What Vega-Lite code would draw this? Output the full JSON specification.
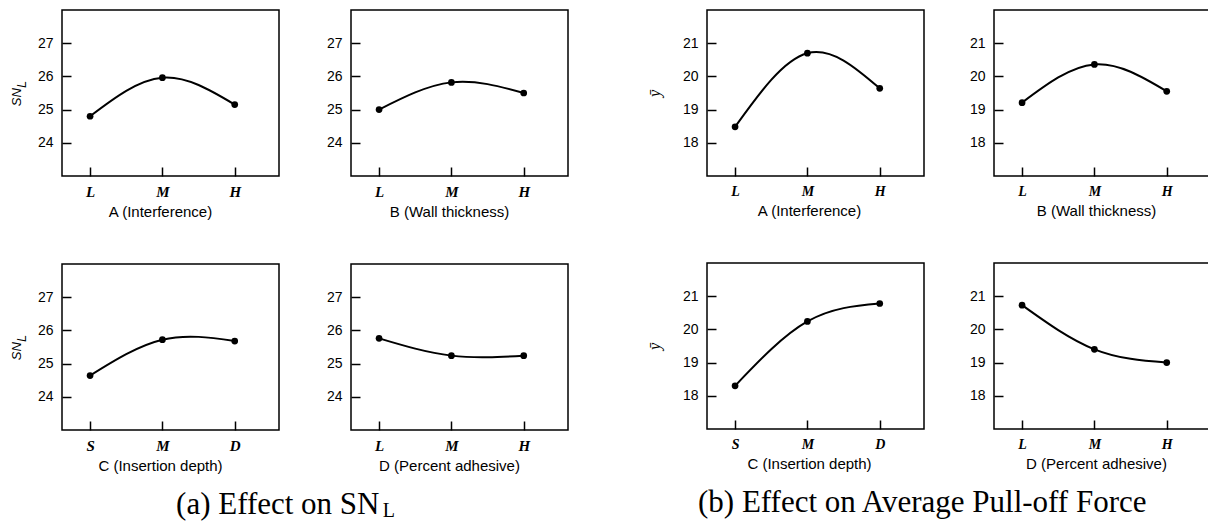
{
  "$schema": "https://vega.github.io/schema/vega-lite/v6.json",
  "padding": {"left": 9, "top": 9, "right": 0, "bottom": 0},
  "background": "white",
  "datasets": {
    "effects": [
      {"g": "a", "f": "A", "level": "L", "value": 24.8},
      {"g": "a", "f": "A", "level": "M", "value": 25.96},
      {"g": "a", "f": "A", "level": "H", "value": 25.15},
      {"g": "a", "f": "B", "level": "L", "value": 25.0},
      {"g": "a", "f": "B", "level": "M", "value": 25.82},
      {"g": "a", "f": "B", "level": "H", "value": 25.5},
      {"g": "a", "f": "C", "level": "S", "value": 24.64},
      {"g": "a", "f": "C", "level": "M", "value": 25.72},
      {"g": "a", "f": "C", "level": "D", "value": 25.68},
      {"g": "a", "f": "D", "level": "L", "value": 25.76},
      {"g": "a", "f": "D", "level": "M", "value": 25.24},
      {"g": "a", "f": "D", "level": "H", "value": 25.24},
      {"g": "b", "f": "A", "level": "L", "value": 18.48},
      {"g": "b", "f": "A", "level": "M", "value": 20.7},
      {"g": "b", "f": "A", "level": "H", "value": 19.64},
      {"g": "b", "f": "B", "level": "L", "value": 19.21},
      {"g": "b", "f": "B", "level": "M", "value": 20.36},
      {"g": "b", "f": "B", "level": "H", "value": 19.55},
      {"g": "b", "f": "C", "level": "S", "value": 18.3},
      {"g": "b", "f": "C", "level": "M", "value": 20.24},
      {"g": "b", "f": "C", "level": "D", "value": 20.78},
      {"g": "b", "f": "D", "level": "L", "value": 20.73},
      {"g": "b", "f": "D", "level": "M", "value": 19.4},
      {"g": "b", "f": "D", "level": "H", "value": 19.0}
    ]
  },
  "spacing": 76,
  "hconcat": [
    {
      "spacing": 43,
      "title": {
        "text": "(a) Effect on SN\u00a0\u00a0\u200b",
        "subtitle": "L",
        "orient": "bottom",
        "anchor": "start",
        "align": "right",
        "frame": "group",
        "dx": 333,
        "offset": 16,
        "font": "Liberation Serif",
        "fontSize": 31,
        "fontWeight": "normal",
        "color": "black",
        "subtitleFont": "Liberation Serif",
        "subtitleFontSize": 20,
        "subtitleColor": "black",
        "subtitlePadding": -20
      },
      "vconcat": [
        {
          "spacing": 45,
          "hconcat": [
            {
              "width": 217, "height": 166,
              "data": {"name": "effects"},
              "transform": [{"filter": "datum.g === 'a' && datum.f === 'A'"}],
              "encoding": {
                "x": {"field": "level", "type": "nominal", "sort": null, "scale": {"type": "point", "paddingOuter": 0.612, "align": 0.388}, "axis": {"title": "A (Interference)", "titleX": 98}},
                "y": {"field": "value", "type": "quantitative", "scale": {"domain": [23, 28], "nice": false, "zero": false}, "axis": {"values": [24, 25, 26, 27], "title": ["SN\u00a0\u00a0\u200b", "\u200b\u00a0\u00a0\u00a0\u00a0\u00a0L"], "titleFont": "Liberation Sans", "titleFontStyle": "italic", "titleFontSize": 13, "titleLineHeight": 5, "titlePadding": 9}}
              },
              "layer": [
                {"mark": {"type": "line", "interpolate": "natural", "color": "black", "strokeWidth": 2}, "encoding": {}},
                {"mark": {"type": "point", "filled": true, "color": "black", "size": 45, "opacity": 1}}
              ]
            },
            {
              "width": 217, "height": 166,
              "data": {"name": "effects"},
              "transform": [{"filter": "datum.g === 'a' && datum.f === 'B'"}],
              "encoding": {
                "x": {"field": "level", "type": "nominal", "sort": null, "scale": {"type": "point", "paddingOuter": 0.612, "align": 0.388}, "axis": {"title": "B (Wall thickness)", "titleX": 98}},
                "y": {"field": "value", "type": "quantitative", "scale": {"domain": [23, 28], "nice": false, "zero": false}, "axis": {"values": [24, 25, 26, 27], "title": null}}
              },
              "layer": [
                {"mark": {"type": "line", "interpolate": "natural", "color": "black", "strokeWidth": 2}, "encoding": {}},
                {"mark": {"type": "point", "filled": true, "color": "black", "size": 45, "opacity": 1}}
              ]
            }
          ]
        },
        {
          "spacing": 45,
          "hconcat": [
            {
              "width": 217, "height": 166,
              "data": {"name": "effects"},
              "transform": [{"filter": "datum.g === 'a' && datum.f === 'C'"}],
              "encoding": {
                "x": {"field": "level", "type": "nominal", "sort": null, "scale": {"type": "point", "paddingOuter": 0.612, "align": 0.388}, "axis": {"title": "C (Insertion depth)", "titleX": 98}},
                "y": {"field": "value", "type": "quantitative", "scale": {"domain": [23, 28], "nice": false, "zero": false}, "axis": {"values": [24, 25, 26, 27], "title": ["SN\u00a0\u00a0\u200b", "\u200b\u00a0\u00a0\u00a0\u00a0\u00a0L"], "titleFont": "Liberation Sans", "titleFontStyle": "italic", "titleFontSize": 13, "titleLineHeight": 5, "titlePadding": 9}}
              },
              "layer": [
                {"mark": {"type": "line", "interpolate": "natural", "color": "black", "strokeWidth": 2}, "encoding": {}},
                {"mark": {"type": "point", "filled": true, "color": "black", "size": 45, "opacity": 1}}
              ]
            },
            {
              "width": 217, "height": 166,
              "data": {"name": "effects"},
              "transform": [{"filter": "datum.g === 'a' && datum.f === 'D'"}],
              "encoding": {
                "x": {"field": "level", "type": "nominal", "sort": null, "scale": {"type": "point", "paddingOuter": 0.612, "align": 0.388}, "axis": {"title": "D (Percent adhesive)", "titleX": 98}},
                "y": {"field": "value", "type": "quantitative", "scale": {"domain": [23, 28], "nice": false, "zero": false}, "axis": {"values": [24, 25, 26, 27], "title": null}}
              },
              "layer": [
                {"mark": {"type": "line", "interpolate": "natural", "color": "black", "strokeWidth": 2}, "encoding": {}},
                {"mark": {"type": "point", "filled": true, "color": "black", "size": 45, "opacity": 1}}
              ]
            }
          ]
        }
      ]
    },
    {
      "spacing": 43,
      "title": {
        "text": "(b) Effect on Average Pull-off Force",
        "orient": "bottom",
        "anchor": "start",
        "align": "left",
        "frame": "group",
        "dx": -9,
        "offset": 16,
        "font": "Liberation Serif",
        "fontSize": 31,
        "fontWeight": "normal",
        "color": "black"
      },
      "vconcat": [
        {
          "spacing": 43,
          "hconcat": [
            {
              "width": 217, "height": 166,
              "data": {"name": "effects"},
              "transform": [{"filter": "datum.g === 'b' && datum.f === 'A'"}],
              "encoding": {
                "x": {"field": "level", "type": "nominal", "sort": null, "scale": {"type": "point", "paddingOuter": 0.612, "align": 0.388}, "axis": {"title": "A (Interference)", "titleX": 102, "labelFontSize": 14}},
                "y": {"field": "value", "type": "quantitative", "scale": {"domain": [17, 22], "nice": false, "zero": false}, "axis": {"values": [18, 19, 20, 21], "title": "ȳ", "titleFont": "Liberation Serif", "titleFontStyle": "italic", "titleFontSize": 16, "titlePadding": 20}}
              },
              "layer": [
                {"mark": {"type": "line", "interpolate": "natural", "color": "black", "strokeWidth": 2}, "encoding": {}},
                {"mark": {"type": "point", "filled": true, "color": "black", "size": 45, "opacity": 1}}
              ]
            },
            {
              "width": 217, "height": 166,
              "data": {"name": "effects"},
              "transform": [{"filter": "datum.g === 'b' && datum.f === 'B'"}],
              "encoding": {
                "x": {"field": "level", "type": "nominal", "sort": null, "scale": {"type": "point", "paddingOuter": 0.612, "align": 0.388}, "axis": {"title": "B (Wall thickness)", "titleX": 102, "labelFontSize": 14}},
                "y": {"field": "value", "type": "quantitative", "scale": {"domain": [17, 22], "nice": false, "zero": false}, "axis": {"values": [18, 19, 20, 21], "title": null}}
              },
              "layer": [
                {"mark": {"type": "line", "interpolate": "natural", "color": "black", "strokeWidth": 2}, "encoding": {}},
                {"mark": {"type": "point", "filled": true, "color": "black", "size": 45, "opacity": 1}}
              ]
            }
          ]
        },
        {
          "spacing": 43,
          "hconcat": [
            {
              "width": 217, "height": 166,
              "data": {"name": "effects"},
              "transform": [{"filter": "datum.g === 'b' && datum.f === 'C'"}],
              "encoding": {
                "x": {"field": "level", "type": "nominal", "sort": null, "scale": {"type": "point", "paddingOuter": 0.612, "align": 0.388}, "axis": {"title": "C (Insertion depth)", "titleX": 102, "labelFontSize": 14}},
                "y": {"field": "value", "type": "quantitative", "scale": {"domain": [17, 22], "nice": false, "zero": false}, "axis": {"values": [18, 19, 20, 21], "title": "ȳ", "titleFont": "Liberation Serif", "titleFontStyle": "italic", "titleFontSize": 16, "titlePadding": 20}}
              },
              "layer": [
                {"mark": {"type": "line", "interpolate": "natural", "color": "black", "strokeWidth": 2}, "encoding": {}},
                {"mark": {"type": "point", "filled": true, "color": "black", "size": 45, "opacity": 1}}
              ]
            },
            {
              "width": 217, "height": 166,
              "data": {"name": "effects"},
              "transform": [{"filter": "datum.g === 'b' && datum.f === 'D'"}],
              "encoding": {
                "x": {"field": "level", "type": "nominal", "sort": null, "scale": {"type": "point", "paddingOuter": 0.612, "align": 0.388}, "axis": {"title": "D (Percent adhesive)", "titleX": 102, "labelFontSize": 14}},
                "y": {"field": "value", "type": "quantitative", "scale": {"domain": [17, 22], "nice": false, "zero": false}, "axis": {"values": [18, 19, 20, 21], "title": null}}
              },
              "layer": [
                {"mark": {"type": "line", "interpolate": "natural", "color": "black", "strokeWidth": 2}, "encoding": {}},
                {"mark": {"type": "point", "filled": true, "color": "black", "size": 45, "opacity": 1}}
              ]
            }
          ]
        }
      ]
    }
  ],
  "config": {
    "view": {"stroke": "black", "strokeWidth": 1.5},
    "axis": {"grid": false, "domain": false, "tickColor": "black", "tickSize": -9, "tickWidth": 1.5, "labelColor": "black", "titleColor": "black", "titleFontWeight": "normal"},
    "axisX": {"labelAngle": 0, "labelFont": "Liberation Serif", "labelFontStyle": "italic", "labelFontWeight": "bold", "labelFontSize": 15, "labelPadding": 17, "titleFont": "Liberation Sans", "titleFontSize": 15, "titlePadding": 5},
    "axisY": {"labelFont": "Liberation Sans", "labelFontSize": 14, "labelPadding": 18}
  }
}
